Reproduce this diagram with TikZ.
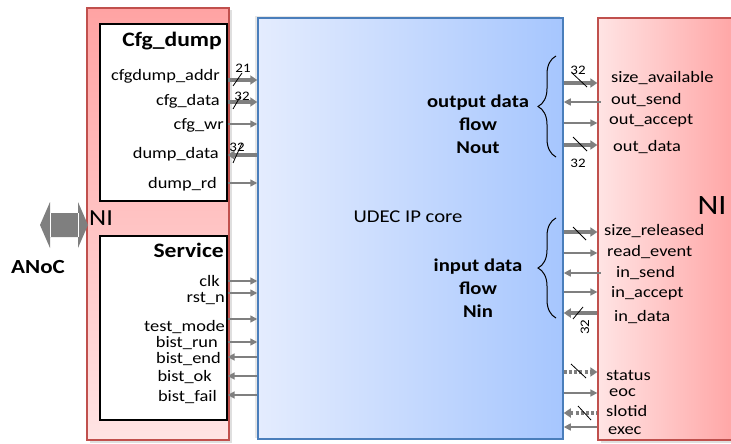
\documentclass[tikz,border=0pt]{standalone}
\usepackage{fontspec}
\setmainfont{Carlito}[FakeStretch=1.15]
\usetikzlibrary{arrows.meta,decorations.pathreplacing,shadows}
\definecolor{arrgray}{HTML}{7F7F7F}
\definecolor{niborder}{HTML}{C0504D}
\definecolor{nidark}{HTML}{FFA3A3}
\definecolor{nilight}{HTML}{FFE4E4}
\definecolor{bluel}{HTML}{E4ECFE}
\definecolor{bluer}{HTML}{A6C6FE}
\definecolor{blueborder}{HTML}{4A7EBB}
\begin{document}
\begin{tikzpicture}[x=1pt,y=-1pt,
  panel/.style={draw=niborder, line width=1.3pt, inner sep=0, rectangle},
  wbox/.style={draw=black, line width=1.3pt, fill=white, inner sep=0, rectangle},
  lbl/.style={inner sep=0, font=\fontsize{16}{18}\selectfont},
  hdr/.style={inner sep=0, font=\fontsize{20.5}{22}\selectfont\bfseries},
  buslbl/.style={inner sep=0, font=\fontsize{13}{14}\selectfont},
  sig/.style={draw=arrgray, line width=1.6pt, -{Triangle[length=7pt,width=7pt]}},
  sigl/.style={draw=arrgray, line width=1.6pt, {Triangle[length=7pt,width=7pt]}-},
  bus/.style={draw=arrgray, line width=4.5pt, -{Triangle[length=7pt,width=9pt]}},
  busl/.style={draw=arrgray, line width=4.5pt, {Triangle[length=7pt,width=9pt]}-},
  dbus/.style={bus, dash pattern=on 3pt off 2.2pt},
  dbusl/.style={busl, dash pattern=on 3pt off 2.2pt},
  slash/.style={draw=black, line width=0.8pt},
  bracedec/.style={draw=black, line width=1pt, decorate, decoration={brace, amplitude=18pt}}
]
\useasboundingbox (0,0) rectangle (731,444);

% panels
\node[panel, top color=nidark, bottom color=nilight, minimum width=142pt, minimum height=432pt,
  drop shadow={shadow xshift=2.5pt, shadow yshift=-2.5pt, opacity=0.25}] (leftni) at (158,224) {};
\node[panel, left color=nilight, right color=nidark, minimum width=142pt, minimum height=422pt,
  drop shadow={shadow xshift=2.5pt, shadow yshift=-2.5pt, opacity=0.25}] (rightni) at (669,229) {};
\node[draw=blueborder, line width=1.5pt, left color=bluel, right color=bluer, inner sep=0, minimum width=305pt, minimum height=421pt,
  drop shadow={shadow xshift=-3pt, shadow yshift=1.5pt, opacity=0.2}] (udec) at (410.5,228.5) {};
\node[wbox, minimum width=127pt, minimum height=177pt] (cfg) at (163.5,112.5) {};
\node[wbox, minimum width=127pt, minimum height=184pt] (svc) at (163.5,328) {};

% ANoC double arrow
\fill[arrgray] (40,225) -- (50,202) -- (50,213) -- (78,213) -- (78,202) -- (88,225) -- (78,248) -- (78,237) -- (50,237) -- (50,248) -- cycle;
\draw[white, line width=1pt] (50,213) -- (50,237) (78,213) -- (78,237);
\node[inner sep=0, font=\fontsize{20}{22}\selectfont\bfseries] (anoc) at (38,267) {ANoC};
\node[inner sep=0, font=\fontsize{23}{25}\selectfont, anchor=west] (nil) at (89,218) {NI};
\node[inner sep=0, font=\fontsize{28}{30}\selectfont] (nir) at (712,206) {NI};

% headers
\node[hdr, anchor=mid east] (hcfg) at (222,44) {Cfg\_dump};
\node[hdr, anchor=mid east] (hsvc) at (224,255) {Service};

% cfg_dump labels
\node[lbl, anchor=mid east] (a1) at (220,78) {cfgdump\_addr};
\node[lbl, anchor=mid east] (a2) at (220,103) {cfg\_data};
\node[lbl, anchor=mid east] (a3) at (224,127) {cfg\_wr};
\node[lbl, anchor=mid east] (a4) at (219,156) {dump\_data};
\node[lbl, anchor=mid east] (a5) at (217,186) {dump\_rd};

% service labels
\node[lbl, anchor=mid east] (b1) at (220,284) {clk};
\node[lbl, anchor=mid east] (b2) at (225,300) {rst\_n};
\node[lbl, anchor=mid east] (b3) at (225,329) {test\_mode};
\node[lbl, anchor=mid east] (b4) at (218,345) {bist\_run};
\node[lbl, anchor=mid east] (b5) at (221,361) {bist\_end};
\node[lbl, anchor=mid east] (b6) at (212,379) {bist\_ok};
\node[lbl, anchor=mid east] (b7) at (217,399) {bist\_fail};

% left connectors
\draw[bus] (cfg.east |- 0,80) -- (udec.west |- 0,80);
\draw[bus] (cfg.east |- 0,102) -- (udec.west |- 0,102);
\draw[sig] (cfg.east |- 0,124) -- (udec.west |- 0,124);
\draw[busl] (cfg.east |- 0,155) -- (udec.west |- 0,155);
\draw[sig] (cfg.east |- 0,183) -- (udec.west |- 0,183);
\draw[sig] (svc.east |- 0,281) -- (udec.west |- 0,281);
\draw[sig] (svc.east |- 0,293) -- (udec.west |- 0,293);
\draw[sig] (svc.east |- 0,319) -- (udec.west |- 0,319);
\draw[sig] (svc.east |- 0,342) -- (udec.west |- 0,342);
\draw[sigl] (svc.east |- 0,357) -- (udec.west |- 0,357);
\draw[sigl] (svc.east |- 0,376) -- (udec.west |- 0,376);
\draw[sigl] (svc.east |- 0,395) -- (udec.west |- 0,395);
\draw[slash] (233,86) -- (242,73);
\draw[slash] (233,109) -- (240,97);
\draw[slash] (233,163) -- (242,143);
\node[buslbl] (w1) at (243,68) {21};
\node[buslbl] (w2) at (242,96) {32};
\node[buslbl] (w3) at (237,147) {32};

% centre texts
\node[inner sep=0, font=\fontsize{18}{20}\selectfont] (core) at (408,217) {UDEC IP core};
\node[inner sep=0, align=center, font=\fontsize{18}{23}\selectfont\bfseries] (nout) at (478,124) {output data\\flow\\Nout};
\node[inner sep=0, align=center, font=\fontsize{18}{23}\selectfont\bfseries] (nin) at (478,288) {input data\\flow\\Nin};
\draw[bracedec] (556,157) -- (556,56);
\draw[bracedec] (556,318) -- (556,218);

% right labels
\node[lbl, anchor=mid west] (c1) at (611,80) {size\_available};
\node[lbl, anchor=mid west] (c2) at (611,102) {out\_send};
\node[lbl, anchor=mid west] (c3) at (609,122) {out\_accept};
\node[lbl, anchor=mid west] (c4) at (613,149) {out\_data};
\node[lbl, anchor=mid west] (d1) at (604,233) {size\_released};
\node[lbl, anchor=mid west] (d2) at (607,254) {read\_event};
\node[lbl, anchor=mid west] (d3) at (616,275) {in\_send};
\node[lbl, anchor=mid west] (d4) at (611,295) {in\_accept};
\node[lbl, anchor=mid west] (d5) at (614,319) {in\_data};
\node[lbl, anchor=mid west] (e1) at (606,378) {status};
\node[lbl, anchor=mid west] (e2) at (609,394) {eoc};
\node[lbl, anchor=mid west] (e3) at (606,414) {slotid};
\node[lbl, anchor=mid west] (e4) at (608,432) {exec};

% right connectors
\draw[bus] (udec.east |- 0,83) -- (rightni.west |- 0,83);
\draw[sigl] (udec.east |- 0,102) -- ([xshift=4pt]rightni.west |- 0,102);
\draw[sig] (udec.east |- 0,123) -- (rightni.west |- 0,123);
\draw[bus] (udec.east |- 0,145) -- (rightni.west |- 0,145);
\draw[bus] (udec.east |- 0,232) -- (rightni.west |- 0,232);
\draw[sig] (udec.east |- 0,253) -- (rightni.west |- 0,253);
\draw[sigl] (udec.east |- 0,273) -- ([xshift=4pt]rightni.west |- 0,273);
\draw[sig] (udec.east |- 0,292) -- (rightni.west |- 0,292);
\draw[busl] (udec.east |- 0,313) -- (rightni.west |- 0,313);
\draw[dbus] (udec.east |- 0,372) -- (rightni.west |- 0,372);
\draw[sig] (udec.east |- 0,393) -- (rightni.west |- 0,393);
\draw[dbusl] (udec.east |- 0,413) -- (rightni.west |- 0,413);
\draw[sigl] (udec.east |- 0,427) -- (rightni.west |- 0,427);
\draw[slash] (572,73) -- (587,87);
\draw[slash] (573,137) -- (587,151);
\draw[slash] (573,227) -- (586,240);
\draw[slash] (583,307) -- (573,319);
\draw[slash] (571,364) -- (586,378);
\draw[slash] (578,406) -- (591,420);
\node[buslbl] (w4) at (578,70) {32};
\node[buslbl] (w5) at (578,163) {32};
\node[buslbl, rotate=90] (w6) at (585,327) {32};
\end{tikzpicture}
\end{document}
